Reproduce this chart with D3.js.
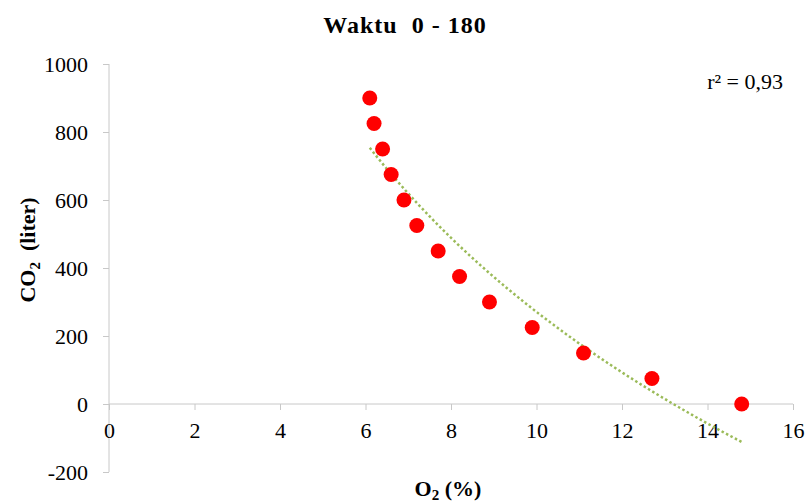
<!DOCTYPE html>
<html>
<head>
<meta charset="utf-8">
<script src="https://cdn.jsdelivr.net/npm/d3@7"></script>
<style>
  body { margin: 0; background: #fff; }
</style>
</head>
<body>
<svg id="chart" width="806" height="503"></svg>
<script>
const o2Values = [6.1, 6.2, 6.4, 6.6, 6.9, 7.2, 7.7, 8.2, 8.9, 9.9, 11.1, 12.7, 14.8];
const co2Values = [900, 825, 750, 675, 600, 525, 450, 375, 300, 225, 150, 75, 0];
const xTicks = [0, 2, 4, 6, 8, 10, 12, 14, 16];
const yTicks = [-200, 0, 200, 400, 600, 800, 1000];
const titleText = "Waktu  0 - 180";
const r2Text = "r² = 0,93";

const FONT = "Liberation Serif";
const svg = d3.select("#chart").attr("font-family", FONT);
const margin = { left: 109, right: 13, top: 64, bottom: 31 };
const width = 806, height = 503;

const x = d3.scaleLinear().domain([0, 16]).range([margin.left, width - margin.right]);
const y = d3.scaleLinear().domain([-200, 1000]).range([height - margin.bottom, margin.top]);

const axisColor = "#c8c8c8";

// y axis (left, from -200 to 1000)
const yAxis = svg.append("g")
    .attr("transform", `translate(${x(0)},0)`)
    .call(d3.axisLeft(y).tickValues(yTicks).tickSize(6).tickPadding(15).tickFormat(d => String(d)));
yAxis.attr("font-family", FONT);
yAxis.select(".domain").attr("stroke", axisColor).attr("d", `M0,${y(1000)}V${y(-200)}`);
yAxis.selectAll(".tick line").attr("stroke", axisColor);
yAxis.selectAll(".tick text").attr("font-size", "22px").attr("font-family", FONT).attr("fill", "#000");

// x axis at y = 0
const xAxis = svg.append("g")
    .attr("transform", `translate(0,${y(0)})`)
    .call(d3.axisBottom(x).tickValues(xTicks).tickSize(6).tickPadding(12).tickFormat(d => String(d)));
xAxis.attr("font-family", FONT);
xAxis.select(".domain").attr("stroke", axisColor).attr("d", `M${x(0)},0H${x(16)}`);
xAxis.selectAll(".tick line").attr("stroke", axisColor);
xAxis.selectAll(".tick text").attr("font-size", "22px").attr("font-family", FONT).attr("fill", "#000");

// logarithmic trendline (least squares on ln x)
const lx = o2Values.map(Math.log);
const mx = d3.mean(lx), my = d3.mean(co2Values);
let sxy = 0, sxx = 0;
lx.forEach((v, i) => { sxy += (v - mx) * (co2Values[i] - my); sxx += (v - mx) * (v - mx); });
const slope = sxy / sxx, intercept = my - slope * mx;
const [xMin, xMax] = d3.extent(o2Values);
const trend = d3.range(0, 61).map(i => {
    const xv = xMin + (xMax - xMin) * i / 60;
    return [xv, slope * Math.log(xv) + intercept];
});
svg.append("path")
    .datum(trend)
    .attr("fill", "none")
    .attr("stroke", "#9bbb59")
    .attr("stroke-width", 2.5)
    .attr("stroke-dasharray", "2.5,2.5")
    .attr("d", d3.line().x(d => x(d[0])).y(d => y(d[1])));

// points
svg.append("g")
    .selectAll("circle")
    .data(o2Values.map((v, i) => [v, co2Values[i]]))
    .enter()
    .append("circle")
    .attr("cx", d => x(d[0]))
    .attr("cy", d => y(d[1]))
    .attr("r", 7.5)
    .attr("fill", "#ff0000");

// title
svg.append("text")
    .attr("x", 405).attr("y", 33)
    .attr("text-anchor", "middle")
    .attr("font-family", FONT)
    .attr("font-size", "24px").attr("font-weight", "bold")
    .attr("letter-spacing", "1px")
    .style("white-space", "pre")
    .text(titleText);

// r squared
svg.append("text")
    .attr("x", 783).attr("y", 89)
    .attr("text-anchor", "end")
    .attr("font-family", FONT)
    .attr("font-size", "22px")
    .text(r2Text);

// y label
const yLab = svg.append("text")
    .attr("transform", "translate(35,250) rotate(-90)")
    .attr("text-anchor", "middle")
    .attr("font-family", FONT)
    .attr("font-size", "22px").attr("font-weight", "bold")
    .style("white-space", "pre");
yLab.append("tspan").text("CO");
yLab.append("tspan").attr("font-size", "15px").attr("dy", 5).text("2");
yLab.append("tspan").attr("dy", -5).text("  (liter)");

// x label
const xLab = svg.append("text")
    .attr("x", 448).attr("y", 496)
    .attr("text-anchor", "middle")
    .attr("font-family", FONT)
    .attr("font-size", "22px").attr("font-weight", "bold")
    .style("white-space", "pre");
xLab.append("tspan").text("O");
xLab.append("tspan").attr("font-size", "15px").attr("dy", 4).text("2");
xLab.append("tspan").attr("dy", -4).text(" (%)");
</script>
</body>
</html>
